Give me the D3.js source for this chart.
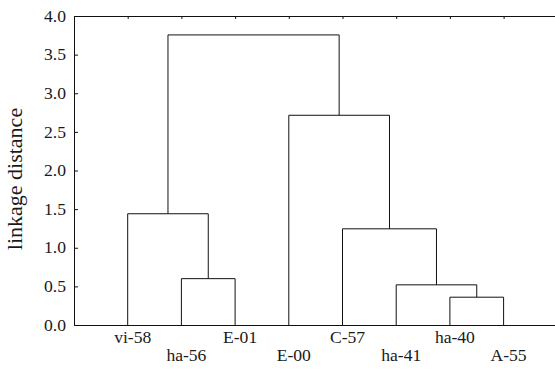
<!DOCTYPE html>
<html>
<head>
<meta charset="utf-8">
<script src="https://cdn.jsdelivr.net/npm/d3@7"></script>
<style>
  body { margin: 0; background: #fff; }
  text { font-family: "Liberation Serif", "Times New Roman", serif; fill: #1a1a1a; }
</style>
</head>
<body>
<div id="chart"></div>
<script>
// leaf order along the x axis
var leaves = ["vi-58", "ha-56", "E-01", "E-00", "C-57", "ha-41", "ha-40", "A-55"];
// merge steps: [child a, child b, linkage distance]; ids 0-7 are leaves, 8+ are merges in order
var merges = [
    [1, 2, 0.60],
    [0, 8, 1.44],
    [6, 7, 0.36],
    [5, 10, 0.52],
    [4, 11, 1.245],
    [3, 12, 2.715],
    [9, 13, 3.755]
];
var yTicks = [0, 0.5, 1, 1.5, 2, 2.5, 3, 3.5, 4];

var width = 555, height = 369;
var plotLeft = 74, plotTop = 16, plotBottom = 325;
var stretch = 1.1; // the source fonts are a bit wide

var svg = d3.select("#chart").append("svg")
    .attr("width", width)
    .attr("height", height);

// x: slot positions, leaves sit at 1..8, the frame runs 0..9
var x = d3.scaleLinear().domain([0, 9]).range([plotLeft, plotLeft + 9 * 53.7]);
var y = d3.scaleLinear().domain([0, 4]).range([plotBottom, plotTop]);

// left axis, ticks pointing inward
var yAxis = svg.append("g")
    .attr("transform", "translate(" + plotLeft + ",0)")
    .call(d3.axisLeft(y).tickValues(yTicks).tickSizeInner(-4).tickSizeOuter(0)
        .tickPadding(8).tickFormat(d3.format(".1f")));
yAxis.select(".domain").attr("stroke", "#111");
yAxis.selectAll(".tick line").attr("stroke", "#111");
yAxis.selectAll(".tick text")
    .attr("font-family", "Liberation Serif")
    .attr("font-size", 16)
    .attr("fill", "#1a1a1a")
    .attr("x", -8 / stretch)
    .attr("transform", "scale(" + stretch + ",1)");

// top line with small ticks at leaves
var topAxis = svg.append("g")
    .attr("transform", "translate(0," + plotTop + ")")
    .call(d3.axisTop(x).tickValues(d3.range(1, 9)).tickSizeInner(-3).tickSizeOuter(0).tickFormat(""));
topAxis.select(".domain").attr("stroke", "#111");
topAxis.selectAll(".tick line").attr("stroke", "#111");

// bottom line
var bottomAxis = svg.append("g")
    .attr("transform", "translate(0," + plotBottom + ")")
    .call(d3.axisBottom(x).tickValues([]).tickSizeOuter(0));
bottomAxis.select(".domain").attr("stroke", "#111");

// leaf labels, alternating two rows
svg.selectAll(".leaf-label").data(leaves).enter().append("text")
    .attr("class", "leaf-label")
    .attr("font-size", 16)
    .attr("text-anchor", "middle")
    .attr("transform", function (d, i) {
        var row = i % 2 === 0 ? 343 : 361;
        return "translate(" + (x(i + 1) + 5) + "," + row + ") scale(" + stretch + ",1)";
    })
    .text(function (d) { return d; });

// y axis title
svg.append("text")
    .attr("font-size", 20)
    .attr("text-anchor", "middle")
    .attr("transform", "translate(22,179) rotate(-90) scale(" + stretch + ",1)")
    .text("linkage distance");

// dendrogram links
var nodes = leaves.map(function (d, i) {
    return { x: x(i + 1), h: 0 };
});
merges.forEach(function (m) {
    var a = nodes[m[0]], b = nodes[m[1]];
    nodes.push({ x: (a.x + b.x) / 2, h: m[2], a: a, b: b });
});

svg.selectAll(".link").data(nodes.filter(function (n) { return n.a; })).enter().append("path")
    .attr("class", "link")
    .attr("fill", "none")
    .attr("stroke", "#111")
    .attr("stroke-width", 1)
    .attr("d", function (n) {
        return "M" + n.a.x + "," + y(n.a.h) +
            "V" + y(n.h) + "H" + n.b.x + "V" + y(n.b.h);
    });
</script>
</body>
</html>
